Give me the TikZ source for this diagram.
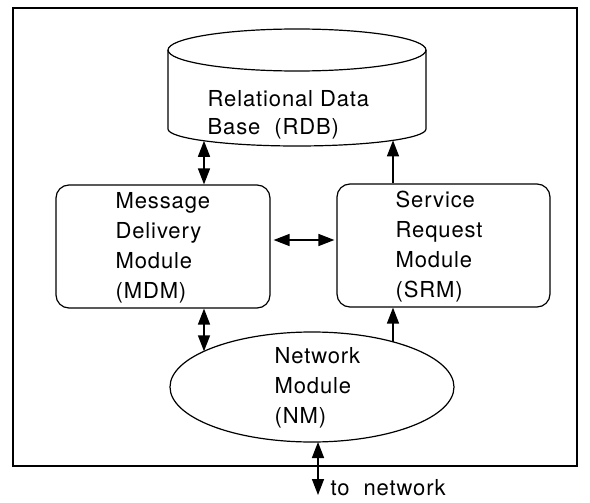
\documentclass[tikz,border=0pt]{standalone}
\usepackage{fontspec}
\setmainfont{TeX Gyre Heros}[LetterSpace=4]
\usetikzlibrary{shapes.geometric,arrows.meta}
\begin{document}
\begin{tikzpicture}[x=1pt,y=-1pt,line width=1.2pt,
  lbl/.style={anchor=north west,inner sep=0pt,align=left,font=\fontsize{22}{30}\selectfont},
  modbox/.style={draw,rounded corners=13pt,minimum width=#1,minimum height=123pt,inner sep=0pt},
  arrboth/.style={{Triangle[length=16pt,width=12pt]}-{Triangle[length=16pt,width=12pt]},line width=1.5pt},
  arrone/.style={-{Triangle[length=16pt,width=12pt]},line width=1.5pt}]
\useasboundingbox (0,0) rectangle (590,503);
% outer frame
\draw (13,8) rectangle (577,466);
% relational data base (cylinder)
\draw (297,50) ellipse [x radius=129pt, y radius=21pt];
\draw (168,50) -- (168,129) arc[start angle=180, end angle=360, x radius=129pt, y radius=17pt] -- (426,50);
\node[lbl,font=\fontsize{22}{28}\selectfont] (rdb) at (207,90) {Relational Data\\Base\ \ (RDB)};
\coordinate (rdbL) at (204,140.8);
\coordinate (rdbR) at (393,140.4);
% modules
\node[modbox=214pt] (mdm) at (163,246.5) {};
\node[lbl] (mdmtext) at (115,192) {Message\\Delivery\\Module\\(MDM)};
\node[modbox=213pt] (srm) at (443.5,245.5) {};
\node[lbl] (srmtext) at (395,190) {Service\\Request\\Module\\(SRM)};
% network module
\node[draw,ellipse,minimum width=284pt,minimum height=110pt,inner sep=0pt] (nm) at (312,387) {};
\node[lbl] (nmtext) at (274,347) {Network\\Module\\(NM)};
\coordinate (nmL) at (204,351.3);
\coordinate (nmR) at (393,341.8);
\coordinate (nmB) at (318,442);
% to network
\coordinate (tonet) at (318,495);
\node[anchor=base west,inner sep=0pt,font=\fontsize{22}{30}\selectfont] (tonettext) at (330,495) {to\ \ network};
% connectors
\draw[arrboth] (rdbL) -- (mdm.north -| rdbL);
\draw[arrone] (srm.north -| rdbR) -- (rdbR);
\draw[arrboth,shorten <=3pt,shorten >=2pt] ([yshift=6.5pt]mdm.east) -- ([yshift=6.5pt]mdm.east -| srm.west);
\draw[arrboth] (mdm.south -| nmL) -- (nmL);
\draw[arrone] (nmR) -- (srm.south -| nmR);
\draw[arrboth] (nmB) -- (tonet);
\end{tikzpicture}
\end{document}
